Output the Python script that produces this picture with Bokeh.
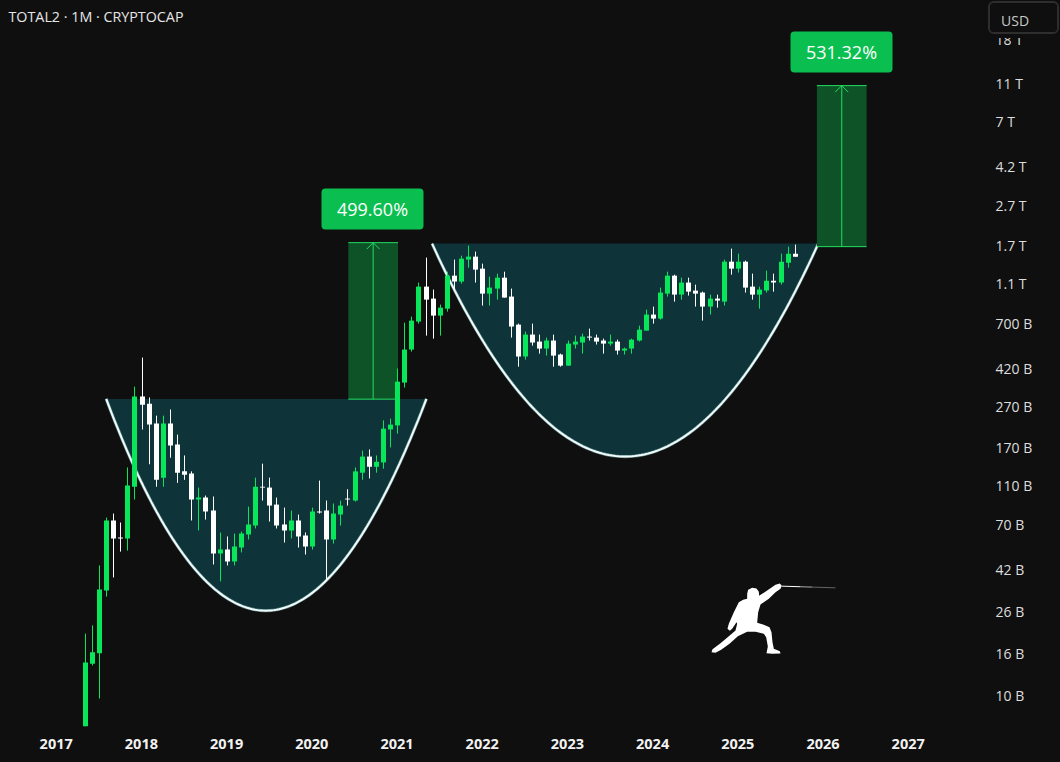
import math
from bokeh.embed import file_html
from bokeh.resources import INLINE
from bokeh.models import ColumnDataSource, FixedTicker, Label, Range1d
from bokeh.plotting import figure

# ---- data: monthly candles, values in billions of USD ----
month_index = list(range(4, 105))  # months since Jan 2017
open_b = [7.01,14.4,16.2,33.3,74.1,61.0,60.3,109,306,282,225,121,225,177,130,127,94.2,96.3,83.0,50.8,53.1,46.3,54.4,63.1,69.9,109,108,88.9,70.7,66.1,74.1,62.4,55.0,82.1,83.0,59.6,79.3,95.2,93.1,128,154,137,144,210,220,359,524,722,1077,939,773,837,1221,1141,1467,1518,1323,994,1053,1193,961,697,484,622,574,530,581,495,436,555,568,608,601,581,561,574,518,530,581,651,782,747,994,1221,983,1128,1029,1006,857,939,907,1433,1323,1433,1077,983,1029,1153,1128,1417,1571]
high_b = [20.3,22.3,44.3,76.6,80.2,72.4,136,343,478,303,246,246,264,198,156,130,108,98.6,97.5,64.6,61.7,63.8,65.3,86.9,121,142,121,96.3,85.9,83.0,79.3,64.6,85.9,117,93.1,90.0,93.1,106,136,165,167,156,233,238,422,713,764,1128,1501,1041,877,1278,1467,1535,1722,1607,1401,1207,1249,1278,1053,705,644,705,622,601,622,500,581,615,629,666,622,594,622,587,536,594,689,828,857,1065,1278,1235,1193,1193,1102,1017,983,983,1467,1664,1571,1450,1249,1077,1293,1249,1571,1702,1742]
low_b = [7.01,14.1,9.66,31.0,38.6,51.9,52.5,94.2,210,141,109,109,152,114,118,74.1,66.1,74.9,44.8,36.9,44.3,44.3,51.4,59.6,67.6,93.1,73.2,67.6,57.6,60.3,54.4,50.2,53.1,80.2,37.3,56.9,69.9,87.9,92.0,118,120,128,134,171,200,339,512,705,615,594,615,809,1029,1115,1338,1128,867,867,928,950,601,431,467,548,500,489,431,431,436,530,500,581,555,500,548,495,495,500,574,651,705,738,960,907,928,972,857,730,782,847,867,1235,1264,1006,928,837,1006,1017,1102,1338,1518]
close_b = [14.6,16.4,33.6,74.1,60.3,60.3,110.5,306,279,222,118,225,175,128,125,94.2,96.3,82.1,50.8,53.1,46.3,55.0,63.8,70.7,109,108,87.9,69.9,66.1,74.1,61.7,55.0,82.1,81.2,59.6,80.2,87.9,94.2,130,154,137,145,212,222,363,524,730,1077,928,773,847,1221,1141,1483,1518,1308,994,1065,1193,950,682,484,622,568,530,581,489,436,561,574,608,601,574,561,574,518,530,587,658,782,747,1006,1221,983,1128,1017,994,857,939,918,1433,1323,1433,1065,983,1041,1153,1128,1433,1571,1518]

year_labels = ["2017","2018","2019","2020","2021","2022","2023","2024","2025","2026","2027"]
year_ticks = [-0.14,11.86,23.86,35.86,47.86,59.86,71.86,83.86,95.86,107.86,119.86]
price_ticks = [10,16.1,26.1,42.1,70.5,110,171,273,420,704,1110,1722,2725,4256,7128,11000,18250]
price_labels = ["10 B","16 B","26 B","42 B","70 B","110 B","170 B","270 B","420 B","700 B","1.1 T","1.7 T","2.7 T","4.2 T","7 T","11 T","18 T"]

# cups: quadratic curve control points (month index, value in billions)
cup1_x = [6.9, 29.3, 52.0]
cup1_y = [298, 2.34, 298]
cup2_x = [52.8, 80.0, 107.2]
cup2_y = [1762, 13.47, 1762]
# measured moves: left, right, bottom, top
move1 = [41.0, 48.0, 297.1, 1781.4]
move2 = [107.0, 114.0, 1702, 10745]
move_labels = ["499.60%", "531.32%"]
title_text = "TOTAL2 · 1M · CRYPTOCAP"
currency_text = "USD"

# ---- styling ----
BG = "#0f0f0f"
GREEN = "#08e65a"
WHITE = "#ffffff"
CUP_FILL = "#0e3338"
MOVE_FILL = "#0e5228"
MOVE_LINE = "#22dd60"
BOX = "#0abf4f"
FONT = "Open Sans"

def x_at(px):
    return (px - 56.7) / 7.1

def v_at(py):
    return 10 ** (1 + (695 - py) / 201.2)

p = figure(width=1060, height=762, output_backend="svg", toolbar_location=None,
           y_axis_type="log", y_axis_location="right",
           x_range=Range1d(x_at(0), x_at(985)), y_range=Range1d(v_at(726), v_at(0)),
           background_fill_color=BG, border_fill_color=BG, outline_line_color=None,
           min_border_left=0, min_border_top=0, min_border_right=75, min_border_bottom=36)
p.styles = {"position": "fixed", "left": "0px", "top": "0px", "background-color": BG}
p.grid.visible = False

xa = p.xaxis[0]
xa.ticker = FixedTicker(ticks=year_ticks)
xa.major_label_overrides = dict(zip(year_ticks, year_labels))
ya = p.yaxis[0]
ya.ticker = FixedTicker(ticks=price_ticks)
ya.major_label_overrides = dict(zip(price_ticks, price_labels))
for ax in (xa, ya):
    ax.axis_line_color = None
    ax.major_tick_line_color = None
    ax.minor_tick_line_color = None
    ax.major_tick_out = 0
    ax.major_tick_in = 0
    ax.major_label_text_font = FONT
xa.major_label_text_color = "#f2f2f2"
xa.major_label_text_font_size = "14.5px"
xa.major_label_text_font_style = "bold"
xa.major_label_standoff = 12
ya.major_label_text_color = "#dddddd"
ya.major_label_text_font_size = "14px"
ya.major_label_standoff = 10

def quad_curve(xs, ys, n=120):
    lx, ly = [], []
    l0, l1, l2 = (math.log10(v) for v in ys)
    for i in range(n + 1):
        t = i / n
        a, b, c = (1 - t) ** 2, 2 * t * (1 - t), t ** 2
        lx.append(a * xs[0] + b * xs[1] + c * xs[2])
        ly.append(10 ** (a * l0 + b * l1 + c * l2))
    return lx, ly

for cx, cy in ((cup1_x, cup1_y), (cup2_x, cup2_y)):
    lx, ly = quad_curve(cx, cy)
    p.patch(lx, ly, fill_color=CUP_FILL, line_color=None)
    p.line(lx, ly, line_color="#7fb5b5", line_width=3.2, line_alpha=0.6)
    p.line(lx, ly, line_color="#f2fbfb", line_width=2)

# measured moves
for (l, r, b, t) in (move1, move2):
    p.quad(left=l, right=r, bottom=b, top=t, fill_color=MOVE_FILL, line_color=None)
    p.segment([l, l], [b, t], [r, r], [b, t], line_color=MOVE_LINE, line_width=1)
    mid = (l + r) / 2
    p.segment([mid], [b], [mid], [t], line_color=MOVE_LINE, line_width=1)
    dy = 6.5 / 201.2
    dx = 6.5 / 7.1
    p.line([mid - dx, mid, mid + dx], [t / 10 ** dy, t, t / 10 ** dy], line_color=MOVE_LINE, line_width=1)

# candles, with each month centred on a whole pixel column as the platform draws them
candle_x = [x_at(math.floor(56.85 + 7.1 * m)) for m in month_index]
colors = [GREEN if c >= o else WHITE for o, c in zip(open_b, close_b)]
src = ColumnDataSource(dict(x=candle_x, o=open_b, h=high_b, l=low_b, c=close_b, col=colors,
                            top=[max(a, b) for a, b in zip(open_b, close_b)],
                            bot=[min(a, b) for a, b in zip(open_b, close_b)]))
p.segment("x", "h", "x", "l", source=src, line_color="col", line_width=1)
p.vbar(x="x", top="top", bottom="bot", width=5 / 7.1, source=src, fill_color="col", line_color=None)

# percent boxes
for (lab, px0, px1, py0, py1) in ((move_labels[0], 321, 423, 188, 229), (move_labels[1], 790, 892, 31, 72)):
    p.quad(left=x_at(px0), right=x_at(px1), top=v_at(py0), bottom=v_at(py1), fill_color=BOX,
           line_color=None, border_radius=4)
    p.text(x=[x_at((px0 + px1) / 2)], y=[v_at((py0 + py1) / 2)], text=[lab], text_align="center",
           text_baseline="middle", text_color="#ffffff", text_font={"value": FONT}, text_font_size="18px")

# fencer logo (decoration in 3x crop pixels)
fencer_zx = [140,143,155,168,175,176,200,225,238,244,240,225,205,180,173,170,190,207,213,216,220,238,240,215,198,202,197,190,165,140,112,88,62,45,33,36,60,85,105,110,108,95,88,81,85,100,115,128,140]
fencer_zy = [70,58,52,54,64,76,60,43,39,46,55,65,85,102,125,157,163,170,185,215,235,242,249,250,248,228,200,190,184,184,197,219,238,247,245,236,218,197,180,160,155,175,181,175,160,125,95,88,85]
p.patch([x_at(700 + a / 3) for a in fencer_zx], [v_at(570 + b / 3) for b in fencer_zy], fill_color="#ffffff", line_color=None)
for z0, z1, alpha in ((244, 300, 1.0), (300, 335, 0.65), (335, 405, 0.35)):
    p.line([x_at(700 + z0 / 3), x_at(700 + z1 / 3)],
           [v_at(570 + (47 + (z0 - 244) * 5 / 161) / 3), v_at(570 + (47 + (z1 - 244) * 5 / 161) / 3)],
           line_color="#ffffff", line_alpha=alpha, line_width=1)

# header text
p.add_layout(Label(x=x_at(8), y=v_at(16), text=title_text, text_color="#e6e6e6", text_font=FONT,
                   text_font_size="14.3px", text_baseline="middle", text_align="left"))

# currency button, a small figure lying over the top of the price scale
usd = figure(width=71, height=33, output_backend="svg", toolbar_location=None,
             x_range=Range1d(0, 67), y_range=Range1d(0, 29),
             background_fill_color=BG, border_fill_color=BG, outline_line_color=None,
             min_border_left=0, min_border_top=0, min_border_right=0, min_border_bottom=0)
usd.styles = {"position": "fixed", "left": "988px", "top": "1px", "background-color": BG,
              "border": "2px solid #2e2e2e", "border-radius": "6px", "overflow": "hidden",
              "box-shadow": "0 4px 0 " + BG}
usd.axis.visible = False
usd.grid.visible = False
usd.text(x=[10], y=[14], text=[currency_text], text_align="left", text_baseline="middle",
         text_color="#c8c8c8", text_font={"value": FONT}, text_font_size="14px")

open("out.html", "w").write(file_html((p, usd), INLINE))
